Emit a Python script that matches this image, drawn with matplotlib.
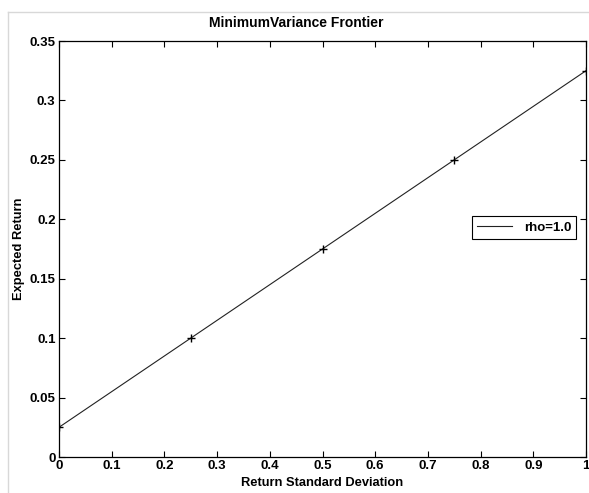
import matplotlib
matplotlib.use("Agg")
import matplotlib.pyplot as plt
from matplotlib.lines import Line2D

# Data
std_dev = [0.0, 0.25, 0.5, 0.75, 1.0]
exp_return = [0.025, 0.1, 0.175, 0.25, 0.325]
series_label = "rho=1.0"
xticks = [0, 0.1, 0.2, 0.3, 0.4, 0.5, 0.6, 0.7, 0.8, 0.9, 1]
xticklabels = ["0", "0.1", "0.2", "0.3", "0.4", "0.5", "0.6", "0.7", "0.8", "0.9", "1"]
yticks = [0, 0.05, 0.1, 0.15, 0.2, 0.25, 0.3, 0.35]
yticklabels = ["0", "0.05", "0.1", "0.15", "0.2", "0.25", "0.3", "0.35"]

W, H = 589, 493
plt.rcParams['font.family'] = ['Liberation Sans', 'DejaVu Sans']
fig = plt.figure(figsize=(W / 100, H / 100), dpi=100)
fig.patch.set_facecolor('white')

# light gray outer frame
fig.add_artist(Line2D([8 / W, 8 / W], [0, 1 - 12 / H], transform=fig.transFigure,
                      color='#d8d8d8', lw=1))
fig.add_artist(Line2D([8 / W, 1], [1 - 12 / H, 1 - 12 / H], transform=fig.transFigure,
                      color='#d8d8d8', lw=1))

left, right, top, bottom = 59, 586, 41, 457
ax = fig.add_axes([left / W, 1 - bottom / H, (right - left) / W, (bottom - top) / H])

ax.plot(std_dev, exp_return, color='#222222', lw=0.8, marker='+', markersize=6,
        markeredgewidth=1.0, markeredgecolor='black', label=series_label)

ax.set_xlim(0, 1)
ax.set_ylim(0, 0.35)
ax.set_xticks(xticks)
ax.set_xticklabels(xticklabels)
ax.set_yticks(yticks)
ax.set_yticklabels(yticklabels)
ax.tick_params(direction='in', length=4, width=0.8, top=True, right=True,
               labelsize=9.5, pad=2.5, colors='black')
for lab in ax.get_xticklabels() + ax.get_yticklabels():
    lab.set_fontweight('bold')
for s in ax.spines.values():
    s.set_linewidth(0.9)

ax.set_xlabel("Return Standard Deviation", fontsize=9.3, fontweight='bold', labelpad=3)
ax.set_ylabel("Expected Return", fontsize=9.3, fontweight='bold', labelpad=3)
fig.text(296 / W, 1 - 23 / H, "MinimumVariance Frontier", ha='center', va='center',
         fontsize=10, fontweight='bold')

leg = ax.legend(loc='upper left', bbox_to_anchor=(0.784, 0.579), borderaxespad=0,
                fancybox=False, edgecolor='black', framealpha=1, handlelength=2.6,
                prop={'size': 9.5, 'weight': 'bold'}, borderpad=0.4, handletextpad=0.9)
leg.get_frame().set_linewidth(0.8)
leg.legend_handles[0].set_marker('')

fig.savefig("out.png", dpi=100)
